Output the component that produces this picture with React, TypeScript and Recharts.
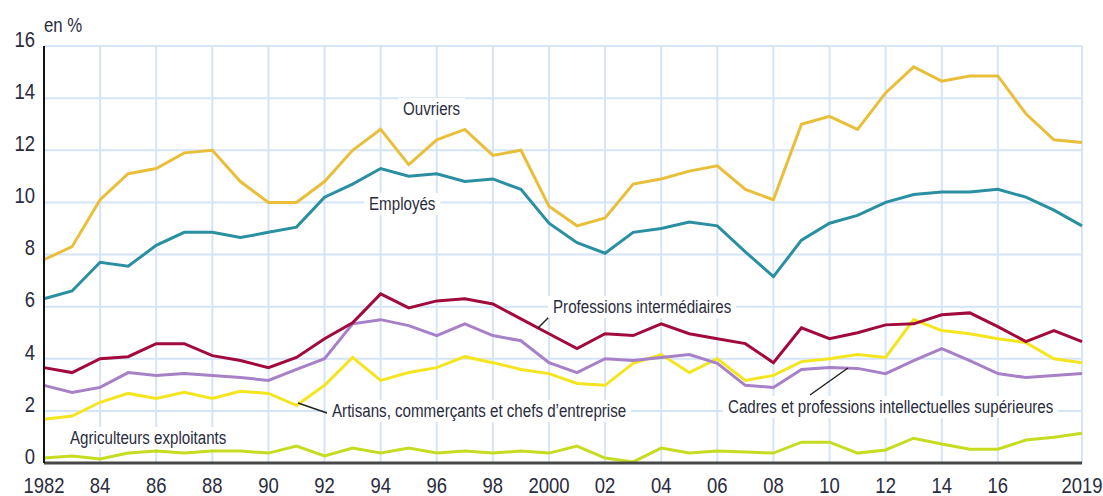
import React from 'react';
import { LineChart, Line, XAxis, YAxis, CartesianGrid } from 'recharts';

const years = [
  1982, 1983, 1984, 1985, 1986, 1987, 1988, 1989, 1990, 1991,
  1992, 1993, 1994, 1995, 1996, 1997, 1998, 1999, 2000, 2001,
  2002, 2003, 2004, 2005, 2006, 2007, 2008, 2009, 2010, 2011,
  2012, 2013, 2014, 2015, 2016, 2017, 2018, 2019,
];

const ouvriers = [
  7.8, 8.3, 10.1, 11.1, 11.3, 11.9, 12.0, 10.8, 10.0, 10.0,
  10.8, 12.0, 12.8, 11.45, 12.4, 12.8, 11.8, 12.0, 9.85, 9.1,
  9.4, 10.7, 10.9, 11.2, 11.4, 10.5, 10.1, 13.0, 13.3, 12.8,
  14.2, 15.2, 14.65, 14.85, 14.85, 13.4, 12.4, 12.3,
];

const employes = [
  6.3, 6.6, 7.7, 7.55, 8.35, 8.85, 8.85, 8.65, 8.85, 9.05,
  10.2, 10.7, 11.3, 11.0, 11.1, 10.8, 10.9, 10.5, 9.2, 8.45,
  8.05, 8.85, 9.0, 9.25, 9.1, 8.1, 7.15, 8.55, 9.2, 9.5,
  10.0, 10.3, 10.4, 10.4, 10.5, 10.2, 9.7, 9.1,
];

const professionsInter = [
  3.66, 3.47, 4.0, 4.08, 4.58, 4.58, 4.12, 3.93, 3.66, 4.05,
  4.77, 5.38, 6.49, 5.95, 6.22, 6.3, 6.1, 5.53, 4.96, 4.39,
  4.96, 4.89, 5.34, 4.96, 4.77, 4.58, 3.85, 5.19, 4.77, 5.0,
  5.3, 5.34, 5.69, 5.76, 5.23, 4.66, 5.08, 4.66,
];

const cadres = [
  2.98, 2.71, 2.9, 3.47, 3.36, 3.43, 3.36, 3.28, 3.17, 3.59,
  4.0, 5.34, 5.5, 5.27, 4.89, 5.34, 4.89, 4.69, 3.85, 3.47,
  4.0, 3.93, 4.05, 4.16, 3.82, 2.98, 2.9, 3.59, 3.66, 3.63,
  3.43, 3.93, 4.39, 3.93, 3.43, 3.28, 3.36, 3.43,
];

const artisans = [
  1.68, 1.8, 2.33, 2.67, 2.48, 2.71, 2.48, 2.75, 2.67, 2.21,
  2.98, 4.05, 3.17, 3.47, 3.66, 4.08, 3.85, 3.59, 3.43, 3.05,
  2.98, 3.82, 4.16, 3.47, 4.0, 3.17, 3.36, 3.89, 4.0, 4.16,
  4.05, 5.5, 5.08, 4.96, 4.77, 4.62, 4.0, 3.85,
];

const agriculteurs = [
  0.19, 0.27, 0.15, 0.38, 0.46, 0.38, 0.46, 0.46, 0.38, 0.65,
  0.27, 0.57, 0.38, 0.57, 0.38, 0.46, 0.38, 0.46, 0.38, 0.65,
  0.19, 0.04, 0.57, 0.38, 0.46, 0.42, 0.38, 0.8, 0.8, 0.38,
  0.5, 0.95, 0.73, 0.53, 0.53, 0.88, 0.99, 1.14,
];

const xTicks = [1982, 1984, 1986, 1988, 1990, 1992, 1994, 1996, 1998, 2000, 2002, 2004, 2006, 2008, 2010, 2012, 2014, 2016, 2019];
const yTicks = [0, 2, 4, 6, 8, 10, 12, 14, 16];

const rows = years.map((year, i) => ({
  year,
  ouvriers: ouvriers[i],
  employes: employes[i],
  professionsInter: professionsInter[i],
  cadres: cadres[i],
  artisans: artisans[i],
  agriculteurs: agriculteurs[i],
}));

const FONT = '"Liberation Sans", Arial, sans-serif';
const TEXT = '#2a2c3e';
const SQUEEZE = 0.84;

const formatYear = (y: number) => (y === 1982 || y === 2000 || y === 2019 ? String(y) : String(y).slice(2));

function YTick({ x, y, payload }: any) {
  return (
    <text transform={`translate(${x},${y - 5}) scale(${SQUEEZE},1)`} textAnchor="end" dominantBaseline="middle" fill={TEXT} fontSize={22} fontFamily={FONT}>
      {payload.value}
    </text>
  );
}

function XTick({ x, y, payload }: any) {
  return (
    <text transform={`translate(${x},${y + 18}) scale(${SQUEEZE},1)`} textAnchor="middle" fill={TEXT} fontSize={22} fontFamily={FONT}>
      {formatYear(payload.value)}
    </text>
  );
}

const labels = [
  { text: 'en %', x: 44, y: 25, bg: false, size: 20 },
  { text: 'Ouvriers', x: 398, y: 109, bg: true, size: 18 },
  { text: 'Employés', x: 364, y: 204, bg: true, size: 18 },
  { text: 'Professions intermédiaires', x: 548, y: 307, bg: true, size: 18 },
  { text: 'Artisans, commerçants et chefs d\u2019entreprise', x: 327, y: 411, bg: true, size: 18 },
  { text: 'Cadres et professions intellectuelles supérieures', x: 723, y: 407, bg: true, size: 18 },
  { text: 'Agriculteurs exploitants', x: 65, y: 438, bg: true, size: 18 },
];

const leaders = [
  [538, 328, 553, 313],
  [298, 403, 327, 413],
  [810, 395, 848, 368],
];

export default function App() {
  return (
    <div style={{ position: 'absolute', left: 0, top: 0, width: 1103, height: 496, background: '#fff', overflow: 'hidden' }}>
      <LineChart width={1103} height={496} data={rows} margin={{ top: 46, right: 21, bottom: 0, left: 0 }}>
        <CartesianGrid stroke="#d5e4f6" strokeWidth={2} />
        <XAxis
          dataKey="year"
          type="number"
          domain={[1982, 2019]}
          ticks={xTicks}
          interval={0}
          height={33}
          tickLine={false}
          tickSize={0}
          tickMargin={12}
          axisLine={{ stroke: '#474747', strokeWidth: 3 }}
          tick={<XTick />}
        />
        <YAxis
          domain={[0, 16]}
          ticks={yTicks}
          interval={0}
          width={44}
          tickLine={false}
          tickSize={0}
          tickMargin={9}
          axisLine={{ stroke: '#111', strokeWidth: 2 }}
          tick={<YTick />}
        />
        <Line type="linear" dataKey="agriculteurs" stroke="#c6dc20" strokeWidth={3} dot={false} isAnimationActive={false} />
        <Line type="linear" dataKey="artisans" stroke="#f4e51e" strokeWidth={3} dot={false} isAnimationActive={false} />
        <Line type="linear" dataKey="cadres" stroke="#a781c8" strokeWidth={3} dot={false} isAnimationActive={false} />
        <Line type="linear" dataKey="professionsInter" stroke="#a30a3c" strokeWidth={3} dot={false} isAnimationActive={false} />
        <Line type="linear" dataKey="employes" stroke="#2a8fa0" strokeWidth={3} dot={false} isAnimationActive={false} />
        <Line type="linear" dataKey="ouvriers" stroke="#e9bf3a" strokeWidth={3} dot={false} isAnimationActive={false} />
      </LineChart>
      <svg width={1103} height={496} style={{ position: 'absolute', left: 0, top: 0, pointerEvents: 'none' }}>
        {leaders.map((l, i) => (
          <line key={i} x1={l[0]} y1={l[1]} x2={l[2]} y2={l[3]} stroke="#222" strokeWidth={1.5} />
        ))}
      </svg>
      {labels.map((l) => (
        <div
          key={l.text}
          style={{
            position: 'absolute',
            left: l.x,
            top: l.y,
            transform: `translateY(-50%) scaleX(${SQUEEZE})`,
            transformOrigin: 'left center',
            fontFamily: FONT,
            fontSize: l.size,
            lineHeight: 1,
            color: TEXT,
            whiteSpace: 'nowrap',
            background: l.bg ? '#fff' : 'transparent',
            padding: l.bg ? '2px 6px' : 0,
          }}
        >
          {l.text}
        </div>
      ))}
    </div>
  );
}
